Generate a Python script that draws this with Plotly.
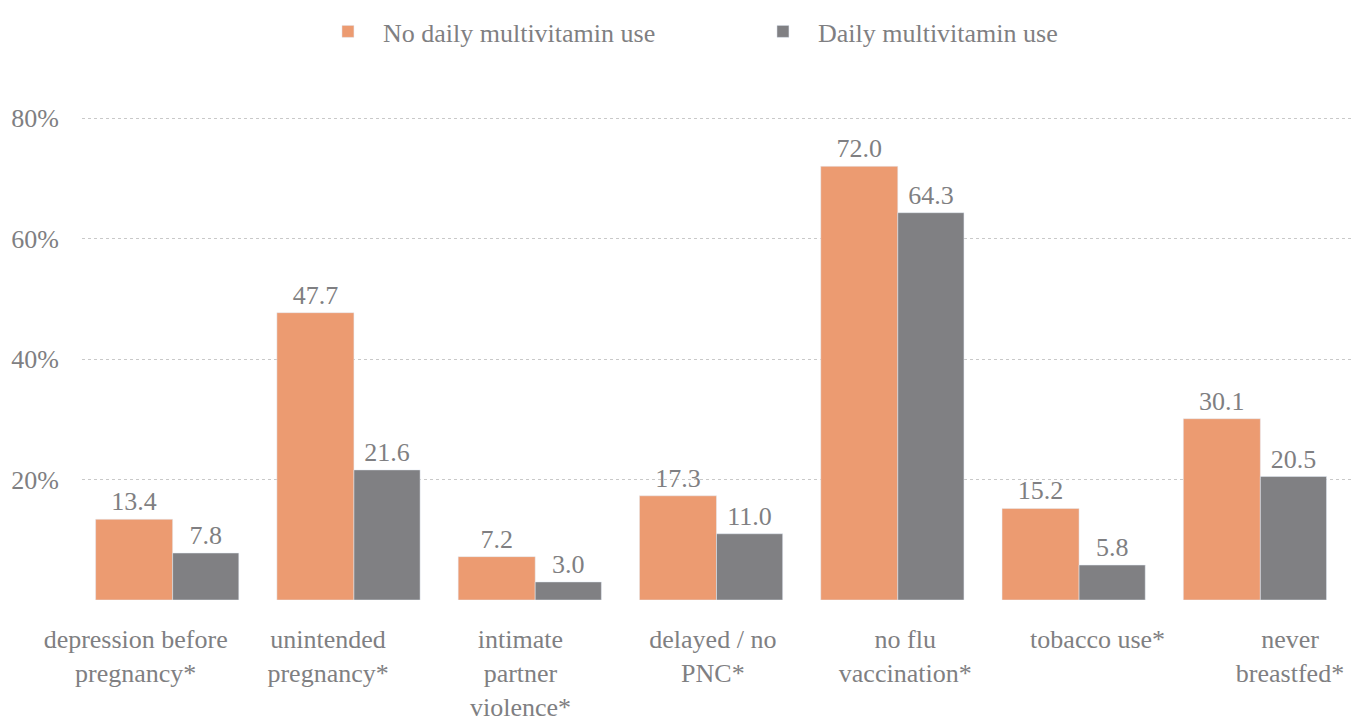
import plotly.graph_objects as go

# data
categorias = ["depression before<br>pregnancy*", "unintended<br>pregnancy*",
              "intimate<br>partner<br>violence*", "delayed / no<br>PNC*",
              "no flu<br>vaccination*", "tobacco use*", "never<br>breastfed*"]
sin_multivitaminico = [13.4, 47.7, 7.2, 17.3, 72.0, 15.2, 30.1]
con_multivitaminico = [7.8, 21.6, 3.0, 11.0, 64.3, 5.8, 20.5]
ticks_y = [0, 20, 40, 60, 80]
ticks_y_texto = ["", "20%", "40%", "60%", "80%"]

naranja = "#EC9B71"
gris = "#808083"
texto = "#7f7f82"
fuente = "Liberation Serif"

posiciones = list(range(len(categorias)))

fig = go.Figure()
fig.add_trace(go.Bar(x=posiciones, y=sin_multivitaminico, name="No daily multivitamin use",
                     marker_color=naranja, width=0.425, offset=-0.425,
                     text=[f"{v:.1f}" for v in sin_multivitaminico], textposition="outside",
                     cliponaxis=False))
fig.add_trace(go.Bar(x=posiciones, y=con_multivitaminico, name="Daily multivitamin use",
                     marker_color=gris, width=0.365, offset=0,
                     text=[f"{v:.1f}" for v in con_multivitaminico], textposition="outside",
                     cliponaxis=False))
# trace invisible para que se dibuje el segundo eje x (etiquetas)
fig.add_trace(go.Scatter(x=posiciones, y=[0] * len(posiciones), xaxis="x2",
                         mode="markers", marker_opacity=0, showlegend=False, hoverinfo="skip"))

fig.update_traces(textfont=dict(size=26, color=texto, family=fuente), selector=dict(type="bar"))

fig.update_layout(
    width=1359, height=728,
    margin=dict(l=74, r=16, t=80, b=136, autoexpand=False),
    barmode="overlay",
    plot_bgcolor="white", paper_bgcolor="white",
    font=dict(family=fuente, size=26, color=texto),
    showlegend=True,
    legend=dict(orientation="h", xref="container", yref="container", x=0.2244, y=1.0,
                xanchor="left", yanchor="top", itemwidth=60,
                entrywidth=360, entrywidthmode="pixels",
                font=dict(size=26, color=texto, family=fuente)),
    xaxis=dict(range=[-0.5, 6.5], showticklabels=False, showgrid=False, zeroline=False,
               fixedrange=True, automargin=False),
    xaxis2=dict(overlaying="x", anchor="y", side="bottom", range=[-0.279, 6.317],
                tickvals=posiciones, ticktext=categorias, showgrid=False, zeroline=False,
                ticks="", ticklabelstandoff=21, automargin=False,
                tickfont=dict(size=26, color=texto, family=fuente)),
    yaxis=dict(range=[0, 85], tickvals=ticks_y, ticktext=ticks_y_texto, showgrid=True,
               gridcolor="#c9c9c9", griddash="dot", gridwidth=1, zeroline=False,
               ticks="", ticklabelstandoff=22, fixedrange=True, automargin=False),
)

fig.write_html("out.html")
